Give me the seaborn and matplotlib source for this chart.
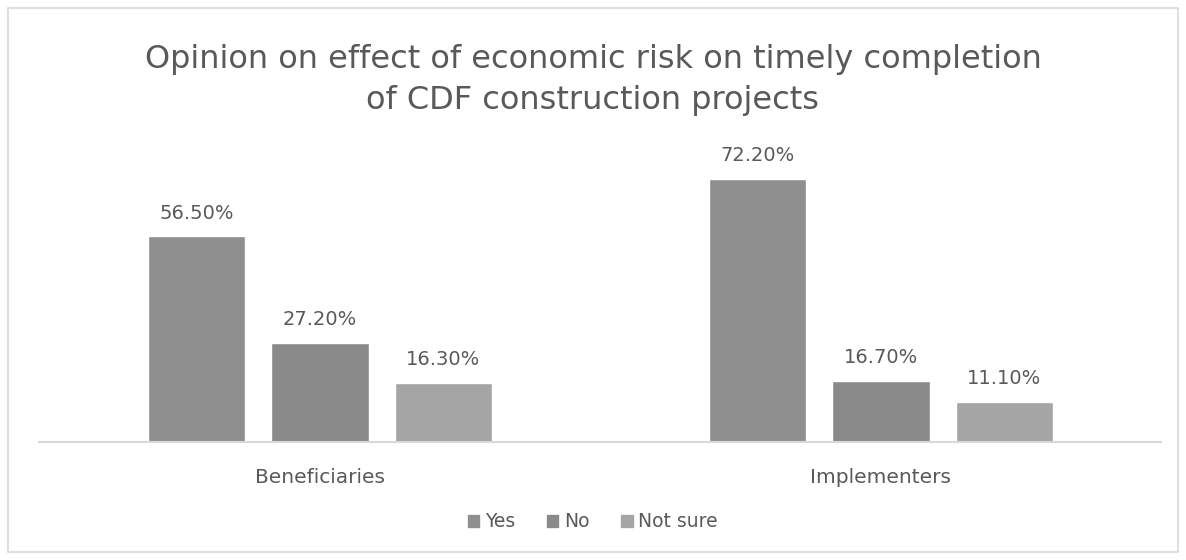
import matplotlib
matplotlib.use("Agg")
import matplotlib.pyplot as plt
import matplotlib.patches as mpatches
import seaborn as sns
import pandas as pd

groups = ["Beneficiaries", "Implementers"]
responses = ["Yes", "No", "Not sure"]
yes_vals = [56.5, 72.2]
no_vals = [27.2, 16.7]
notsure_vals = [16.3, 11.1]
colors = ["#8f8f8f", "#8a8a8a", "#a5a5a5"]

rows = []
for i, g in enumerate(groups):
    rows.append((g, "Yes", yes_vals[i]))
    rows.append((g, "No", no_vals[i]))
    rows.append((g, "Not sure", notsure_vals[i]))
df = pd.DataFrame(rows, columns=["Group", "Response", "Percent"])

sns.set_theme(style="white")
plt.rcParams["font.family"] = ["DejaVu Sans"]
TXT = "#595959"

fig = plt.figure(figsize=(11.86, 5.6), dpi=100)
ax = fig.add_axes([0.0333, 0.2107, 0.946, 0.5197])

sns.barplot(data=df, x="Group", y="Percent", hue="Response", hue_order=responses,
            palette=colors, width=0.66, gap=0.21, ax=ax, legend=False,
            saturation=1, errorbar=None)

for cont in ax.containers:
    ax.bar_label(cont, fmt="%.2f%%", padding=10, fontsize=14, color=TXT)

ax.set_ylim(0, 80)
ax.set_xlim(-0.5, 1.5)
ax.set_xlabel("")
ax.set_ylabel("")
ax.set_yticks([])
for s in ["top", "right", "left"]:
    ax.spines[s].set_visible(False)
ax.spines["bottom"].set_color("#d9d9d9")
ax.spines["bottom"].set_linewidth(1.5)
ax.tick_params(axis="x", length=0, pad=19, labelsize=14.5, labelcolor=TXT)

fig.text(0.5, 0.857, "Opinion on effect of economic risk on timely completion\nof CDF construction projects",
         ha="center", va="center", fontsize=23, color=TXT, linespacing=1.42)

handles = [mpatches.Patch(color=c, label=r) for c, r in zip(colors, responses)]
fig.legend(handles=handles, loc="center", bbox_to_anchor=(0.5, 0.068), ncol=3,
           frameon=False, fontsize=13.5, labelcolor=TXT, handlelength=0.6,
           handleheight=0.6, handletextpad=0.3, columnspacing=1.7)

border = mpatches.Rectangle((8 / 1186, 8 / 560), 1 - 16 / 1186, 1 - 16 / 560,
                            transform=fig.transFigure, fill=False,
                            edgecolor="#d9d9d9", linewidth=1.2)
fig.add_artist(border)

fig.savefig("out.png", dpi=100, facecolor="white")
